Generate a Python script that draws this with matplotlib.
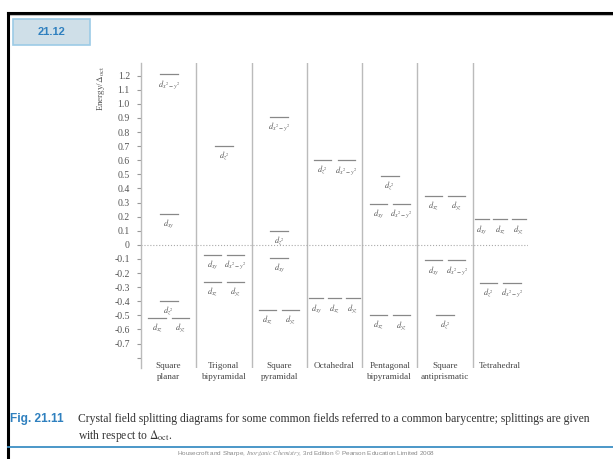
import matplotlib
matplotlib.use('Agg')
import matplotlib.pyplot as plt
from matplotlib.lines import Line2D
from matplotlib.patches import Rectangle

plt.rcParams['font.family'] = ['Liberation Serif', 'DejaVu Serif']
plt.rcParams['mathtext.fontset'] = 'stix'

W, H = 613, 459

# crystal field levels (energy / Delta_oct) and orbital labels per geometry
geometries = ['Square\nplanar', 'Trigonal\nbipyramidal', 'Square\npyramidal',
              'Octahedral', 'Pentagonal\nbipyramidal', 'Square\nantiprismatic',
              'Tetrahedral']

sq_planar_E = [1.21, 0.22, -0.40, -0.52]
sq_planar_orb = [['x^2-y^2'], ['xy'], ['z^2'], ['xz', 'yz']]

tbp_E = [0.70, -0.07, -0.26]
tbp_orb = [['z^2'], ['xy', 'x^2-y^2'], ['xz', 'yz']]

sq_pyr_E = [0.91, 0.10, -0.09, -0.46]
sq_pyr_orb = [['x^2-y^2'], ['z^2'], ['xy'], ['xz', 'yz']]

oct_E = [0.60, -0.38]
oct_orb = [['z^2', 'x^2-y^2'], ['xy', 'xz', 'yz']]

pbp_E = [0.49, 0.29, -0.50]
pbp_orb = [['z^2'], ['xy', 'x^2-y^2'], ['xz', 'yz']]

sq_anti_E = [0.35, -0.11, -0.50]
sq_anti_orb = [['xz', 'yz'], ['xy', 'x^2-y^2'], ['z^2']]

tet_E = [0.18, -0.27]
tet_orb = [['xy', 'xz', 'yz'], ['z^2', 'x^2-y^2']]

all_E = [sq_planar_E, tbp_E, sq_pyr_E, oct_E, pbp_E, sq_anti_E, tet_E]
all_orb = [sq_planar_orb, tbp_orb, sq_pyr_orb, oct_orb, pbp_orb, sq_anti_orb, tet_orb]

yticks = [1.2, 1.1, 1.0, 0.9, 0.8, 0.7, 0.6, 0.5, 0.4, 0.3, 0.2, 0.1, 0,
          -0.1, -0.2, -0.3, -0.4, -0.5, -0.6, -0.7, -0.8]
ytick_labels = ['1.2', '1.1', '1.0', '0.9', '0.8', '0.7', '0.6', '0.5', '0.4',
                '0.3', '0.2', '0.1', '0', '-0.1', '-0.2', '-0.3', '-0.4',
                '-0.5', '-0.6', '-0.7', '']

fig = plt.figure(figsize=(W / 100, H / 100), dpi=100)

# page frame
fig.add_artist(Line2D([8 / W, 1], [1 - 12.5 / H] * 2, color='black', lw=2.2))
fig.add_artist(Line2D([9 / W, 1], [1 - 15 / H] * 2, color='#bbbbbb', lw=0.8))
fig.add_artist(Line2D([8 / W] * 2, [0, 1 - 12.5 / H], color='black', lw=2.2))

# "21.12" tab
fig.add_artist(Rectangle((13 / W, 1 - 45 / H), 77 / W, 26 / H, transform=fig.transFigure,
                         facecolor='#cfdfe8', edgecolor='#9ccbe6', lw=1.2))
fig.text(51.5 / W, 1 - 32 / H, '21.12', family='Liberation Sans', weight='bold',
         color='#2f80bf', fontsize=8, ha='center', va='center')

# chart axes
ax = fig.add_axes([141 / W, 1 - 367.5 / H, 387 / W, (367.5 - 63) / H])
ax.set_xlim(0, 7)
ax.set_ylim(-0.87, 1.29)
for s in ['top', 'right', 'bottom']:
    ax.spines[s].set_visible(False)
ax.spines['left'].set_color('#bbbbbb')
ax.spines['left'].set_linewidth(1.0)
ax.set_xticks([])
ax.set_yticks(yticks)
ax.set_yticklabels(ytick_labels)
ax.tick_params(axis='y', length=3, width=0.8, color='#999999', labelsize=7,
               labelcolor='#555555', pad=5)

for i in range(1, 7):
    ax.axvline(i, color='#bbbbbb', lw=1.0)
ax.plot([0, 7], [0, 0], ':', color='#aaaaaa', lw=0.8)

offsets = {1: [0.0], 2: [-0.21, 0.21], 3: [-0.33, 0.0, 0.33]}
widths = {1: 0.33, 2: 0.31, 3: 0.25}
for col, (energies, orbs) in enumerate(zip(all_E, all_orb)):
    cx = col + 0.5
    for e, names in zip(energies, orbs):
        n = len(names)
        hw = widths[n] / 2
        for dx, name in zip(offsets[n], names):
            ax.plot([cx + dx - hw, cx + dx + hw], [e, e], color='#888888', lw=0.9)
            ax.text(cx + dx, e - 0.025, f'$d_{{{name}}}$', ha='center', va='top',
                    fontsize=6, color='#555555')
    ax.text(cx, -0.831, geometries[col], ha='center', va='top', fontsize=6.6,
            color='#444444', linespacing=1.5, clip_on=False)

fig.text(101 / W, 1 - 66 / H, r'Energy/$\Delta_{\rm oct}$', rotation=90,
         ha='center', va='top', fontsize=6.5, color='#555555')

# caption
fig.text(10 / W, 1 - 419 / H, 'Fig. 21.11', family='Liberation Sans', weight='bold',
         color='#2f80bf', fontsize=8.6, va='center')
fig.text(78 / W, 1 - 419 / H,
         'Crystal field splitting diagrams for some common fields referred to a common '
         'barycentre; splittings are given', fontsize=8.4, color='#333333', va='center')
fig.text(78 / W, 1 - 436 / H, r'with respect to $\Delta_{\rm oct}$.', fontsize=8.4,
         color='#333333', va='center')
fig.add_artist(Line2D([8 / W, 1], [1 - 447 / H] * 2, color='#3d8fc4', lw=1.3))
fig.text(306 / W, 1 - 453.5 / H,
         r'Housecroft and Sharpe, $\it{Inorganic\ Chemistry}$, 3rd Edition © Pearson '
         'Education Limited 2008', family='Liberation Sans', fontsize=4.6,
         color='#888888', ha='center', va='center')

fig.savefig('out.png', dpi=100)
